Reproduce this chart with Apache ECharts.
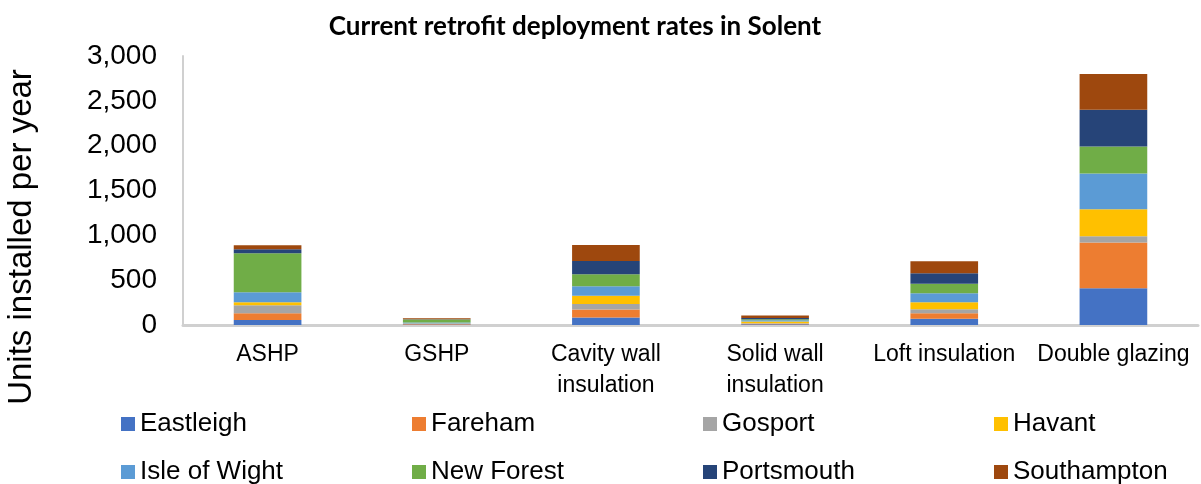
<!DOCTYPE html>
<html>
<head>
<meta charset="utf-8">
<script src="https://cdn.jsdelivr.net/npm/echarts@6/dist/echarts.min.js"></script>
<style>html,body{margin:0;padding:0;background:#fff}#c{width:1201px;height:484px}</style>
</head>
<body>
<div id="c"></div>
<script>
const categories = ['ASHP', 'GSHP', 'Cavity wall\ninsulation', 'Solid wall\ninsulation', 'Loft insulation', 'Double glazing'];
const yTicks = [0, 500, 1000, 1500, 2000, 2500, 3000];
const eastleigh   = [55, 5, 85, 7, 70, 410];
const fareham     = [75, 5, 89, 8, 60, 510];
const gosport     = [90, 5, 60, 5, 45, 70];
const havant      = [35, 2, 93, 18, 78, 300];
const isleOfWight = [110, 10, 104, 15, 100, 400];
const newForest   = [435, 35, 134, 11, 107, 300];
const portsmouth  = [45, 3, 149, 15, 116, 410];
const southampton = [45, 10, 178, 26, 134, 400];
const seriesNames = ['Eastleigh', 'Fareham', 'Gosport', 'Havant', 'Isle of Wight', 'New Forest', 'Portsmouth', 'Southampton'];
const seriesData = [eastleigh, fareham, gosport, havant, isleOfWight, newForest, portsmouth, southampton];
const colors = ['#4472C4', '#ED7D31', '#A5A5A5', '#FFC000', '#5B9BD5', '#70AD47', '#264478', '#9E480E'];

const chart = echarts.init(document.getElementById('c'));
const legendCols = [116, 407, 698, 989];
const legendRows = [406, 454];
const legends = seriesNames.map((n, i) => ({
  orient: 'horizontal', left: legendCols[i % 4], top: legendRows[Math.floor(i / 4)],
  itemWidth: 14, itemHeight: 14, icon: 'rect', data: [n],
  textStyle: { fontFamily: 'Liberation Sans, Arial', fontSize: 26, color: '#000' }
}));
chart.setOption({
  color: colors,
  animation: false,
  title: {
    text: 'Current retrofit deployment rates in Solent',
    left: 570, top: 9, textAlign: 'center',
    textStyle: { fontFamily: 'Lato', fontWeight: 'bold', fontSize: 26, color: '#000' }
  },
  graphic: [{
    type: 'text', x: 22, y: 237, rotation: Math.PI / 2,
    style: { text: 'Units installed per year', fontFamily: 'Liberation Sans, Arial', fontSize: 33, fill: '#000', align: 'center', verticalAlign: 'middle' }
  }],
  legend: legends,
  grid: { left: 183, right: 3, top: 56, bottom: 159, containLabel: false },
  xAxis: {
    type: 'category', data: categories,
    axisLine: { lineStyle: { color: '#d0d0d0', width: 3 } },
    axisTick: { show: false },
    axisLabel: { fontFamily: 'Liberation Sans, Arial', fontSize: 23, color: '#000', margin: 14, lineHeight: 31, interval: 0 }
  },
  yAxis: {
    type: 'value', min: 0, max: 3000, interval: 500,
    axisLine: { show: true, lineStyle: { color: '#d0d0d0', width: 2 } },
    axisTick: { show: false },
    splitLine: { show: false },
    axisLabel: {
      fontFamily: 'Liberation Sans, Arial', fontSize: 28, color: '#000', margin: 26,
      formatter: v => yTicks.includes(v) ? v.toLocaleString('en-US') : ''
    }
  },
  series: seriesNames.map((n, i) => ({
    name: n, type: 'bar', stack: 'total', barWidth: '40%', data: seriesData[i]
  }))
});
</script>
</body>
</html>
